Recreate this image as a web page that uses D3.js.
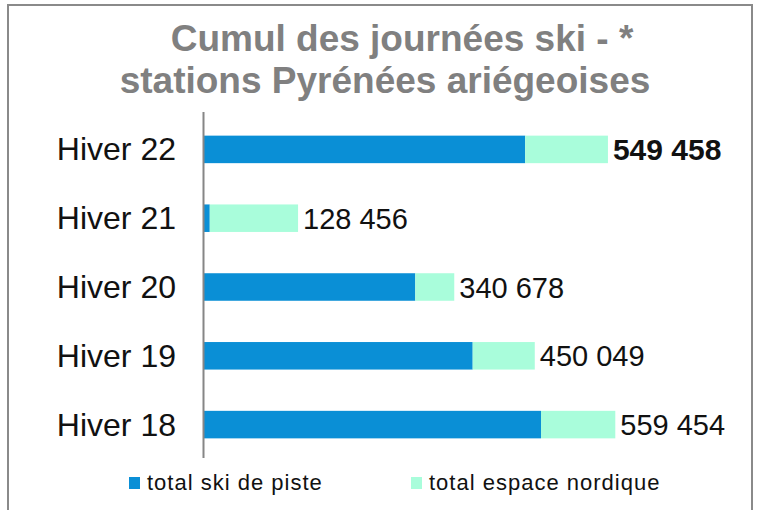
<!DOCTYPE html>
<html>
<head>
<meta charset="utf-8">
<script src="https://cdn.jsdelivr.net/npm/d3@7"></script>
<style>
  body { margin: 0; background: #fff; }
  svg { display: block; font-family: "Liberation Sans", Arial, sans-serif; }
</style>
</head>
<body>
<script>
// data
var categories = ["Hiver 22", "Hiver 21", "Hiver 20", "Hiver 19", "Hiver 18"];
var piste = [437000, 8500, 287700, 365700, 458500];      // total ski de piste
var nordique = [112458, 119956, 52978, 84349, 100954];   // total espace nordique
var totals = ["549 458", "128 456", "340 678", "450 049", "559 454"];
var seriesNames = ["total ski de piste", "total espace nordique"];
var colors = ["#0a8fd6", "#a9fddb"];

var width = 759, height = 510;

var svg = d3.select("body").append("svg")
    .attr("width", width)
    .attr("height", height);

// frame
svg.append("rect")
    .attr("x", 8).attr("y", 5)
    .attr("width", 744).attr("height", 520)
    .attr("fill", "none")
    .attr("stroke", "#8a8a8a")
    .attr("stroke-width", 2);

// title
var title = svg.append("text")
    .attr("text-anchor", "middle")
    .attr("fill", "#808080")
    .style("font-weight", "bold")
    .style("font-size", "37px");
title.append("tspan").attr("x", 402).attr("y", 51).text("Cumul des journées ski -  *");
title.append("tspan").attr("x", 385).attr("y", 93).text("stations Pyrénées ariégeoises");

var x = d3.scaleLinear()
    .domain([0, 600000])
    .range([203.5, 203.5 + 600000 * 411.8 / 559454]);

var y = d3.scaleBand()
    .domain(categories)
    .range([115, 459])
    .paddingInner(0.6)
    .paddingOuter(0.3);

var rows = categories.map(function (c, i) {
    return { cat: c, piste: piste[i], nordique: nordique[i], label: totals[i], i: i };
});

var stack = d3.stack().keys(["piste", "nordique"]);
var layers = stack(rows);

svg.selectAll(".layer")
    .data(layers)
    .enter().append("g")
    .attr("class", "layer")
    .attr("fill", function (d, i) { return colors[i]; })
    .selectAll("rect")
    .data(function (d) { return d; })
    .enter().append("rect")
    .attr("x", function (d) { return x(d[0]); })
    .attr("y", function (d) { return y(d.data.cat); })
    .attr("width", function (d) { return x(d[1]) - x(d[0]); })
    .attr("height", y.bandwidth());

// category axis
svg.append("line")
    .attr("x1", x(0)).attr("x2", x(0))
    .attr("y1", 112).attr("y2", 458)
    .attr("stroke", "#868686")
    .attr("stroke-width", 2);

svg.selectAll(".cat")
    .data(categories)
    .enter().append("text")
    .attr("class", "cat")
    .attr("x", 176)
    .attr("y", function (d) { return y(d) + y.bandwidth() / 2 + 11; })
    .attr("text-anchor", "end")
    .attr("fill", "#111")
    .style("font-size", "32px")
    .text(function (d) { return d; });

// totals
svg.selectAll(".total")
    .data(rows)
    .enter().append("text")
    .attr("class", "total")
    .attr("x", function (d) { return x(d.piste + d.nordique) + 5; })
    .attr("y", function (d) { return y(d.cat) + y.bandwidth() / 2 + 10.5; })
    .attr("fill", "#111")
    .style("font-size", function (d) { return d.i === 0 ? "30px" : "29px"; })
    .style("font-weight", function (d) { return d.i === 0 ? "bold" : "normal"; })
    .text(function (d) { return d.label; });

// legend
var legendX = [129, 411];
var legend = svg.selectAll(".legend")
    .data(seriesNames)
    .enter().append("g")
    .attr("class", "legend")
    .attr("transform", function (d, i) { return "translate(" + legendX[i] + ",477)"; });

legend.append("rect")
    .attr("width", 11).attr("height", 12)
    .attr("fill", function (d, i) { return colors[i]; });

legend.append("text")
    .attr("x", 18)
    .attr("y", 13)
    .attr("fill", "#111")
    .style("font-size", "22px")
    .style("letter-spacing", "1px")
    .text(function (d) { return d; });
</script>
</body>
</html>
